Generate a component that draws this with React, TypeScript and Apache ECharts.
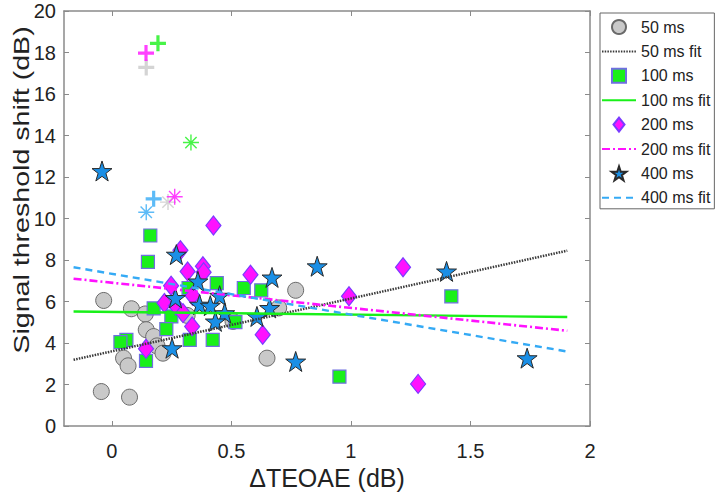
import React, { useEffect, useRef } from "react";
import * as echarts from "echarts";

const xTicks = [0, 0.5, 1, 1.5, 2];
const legendNames = ["50 ms", "50 ms fit", "100 ms", "100 ms fit", "200 ms", "200 ms fit", "400 ms", "400 ms fit"];

const ms50 = [[-0.034, 6.05], [0.082, 5.65], [0.14, 5.4], [0.698, 5.69], [0.507, 5.04], [0.144, 4.64], [0.175, 4.31], [0.189, 3.86], [0.214, 3.51], [0.049, 3.27], [0.068, 2.9], [0.649, 3.27], [-0.044, 1.66], [0.074, 1.39], [0.769, 6.54], [0.315, 5.33]];
const ms100 = [[0.161, 9.18], [0.151, 7.91], [0.439, 6.89], [0.552, 6.65], [0.625, 6.54], [0.321, 6.65], [0.175, 5.67], [0.249, 5.28], [0.517, 5.01], [0.228, 4.67], [0.326, 4.15], [0.422, 4.15], [0.061, 4.15], [0.036, 4.04], [0.143, 3.14], [0.952, 2.38], [1.42, 6.25]];
const ms200 = [[0.425, 9.66], [0.287, 8.47], [0.317, 7.45], [0.381, 7.7], [0.384, 7.41], [0.58, 7.29], [0.248, 6.76], [0.338, 6.28], [0.22, 5.93], [0.268, 5.8], [0.298, 5.44], [0.336, 4.8], [0.631, 4.4], [0.143, 3.72], [1.218, 7.65], [0.992, 6.25], [1.281, 2.03]];
const ms400 = [[0.27, 8.26], [0.36, 6.97], [0.67, 7.16], [0.266, 6.17], [0.451, 6.28], [0.367, 5.85], [0.412, 5.8], [0.472, 5.44], [0.66, 5.69], [0.607, 5.28], [0.433, 5.04], [0.252, 3.75], [0.769, 3.11], [0.859, 7.7], [1.4, 7.45], [1.737, 3.27], [-0.041, 12.29]];

const fit50 = [[-0.16, 3.19], [1.905, 8.45]];
const fit100 = [[-0.16, 5.52], [1.905, 5.25]];
const fit200 = [[-0.16, 7.1], [1.905, 4.59]];
const fit400 = [[-0.16, 7.65], [1.905, 3.59]];

const plus50 = [[0.144, 17.28]];
const plus100 = [[0.193, 18.44]];
const plus200 = [[0.143, 17.97]];
const plus400 = [[0.175, 10.95]];
const ast50 = [[0.235, 10.79]];
const ast100 = [[0.331, 13.66]];
const ast200 = [[0.263, 11.05]];
const ast400 = [[0.144, 10.3]];

function starPath(): string {
  const pts: string[] = [];
  for (let i = 0; i < 10; i++) {
    const r = i % 2 === 0 ? 10 : 3.9;
    const a = -Math.PI / 2 + (i * Math.PI) / 5;
    pts.push(`${(r * Math.cos(a)).toFixed(3)},${(r * Math.sin(a)).toFixed(3)}`);
  }
  return "path://M" + pts.join("L") + "Z";
}
const STAR = starPath();
const PLUS = "path://M0,-7L0,7M-7,0L7,0";
const AST = "path://M0,-8L0,8M-8,0L8,0M-5.66,-5.66L5.66,5.66M-5.66,5.66L5.66,-5.66";
const SQUARE_ICON = "path://M0,0H10V10H0Z";
const DIAMOND_ICON = "path://M7.5,0L15,9.5L7.5,19L0,9.5Z";

const C_GRAY = "#c9c9c9";
const C_GREEN = "#19f019";
const C_MAG = "#ff11ff";
const C_BLUE = "#1a8fe6";
const C_LBLUE = "#35aaf5";
const FONT = "Liberation Sans, Arial, sans-serif";

export default function App() {
  const ref = useRef<HTMLDivElement>(null);
  useEffect(() => {
    if (!ref.current) return;
    const chart = echarts.init(ref.current, undefined, { renderer: "svg" });
    const axisLine = { show: true, onZero: false, lineStyle: { color: "#8a8a8a", width: 1.5 } };
    const tickStyle = { inside: true, length: 5, lineStyle: { color: "#8a8a8a", width: 1 } };
    const outlier = (name: string, data: number[][], sym: string, color: string, size: number, bw: number) => ({
      name,
      type: "scatter",
      data,
      symbol: sym,
      symbolSize: size,
      itemStyle: { color: "transparent", borderColor: color, borderWidth: bw },
      z: 3,
    });
    const fitLine = (name: string, data: number[][], color: string, type: any, width: number) => ({
      name,
      type: "line",
      data,
      symbol: "none",
      lineStyle: { color, type, width },
      itemStyle: { color, opacity: 0 },
      z: 4,
    });
    const legendData = legendNames.map((n) => {
      if (n.endsWith("fit")) return { name: n, itemStyle: { opacity: 0 } };
      if (n === "100 ms") return { name: n, icon: SQUARE_ICON };
      if (n === "200 ms") return { name: n, icon: DIAMOND_ICON };
      return { name: n };
    });
    chart.setOption({
      animation: false,
      backgroundColor: "#ffffff",
      grid: { left: 64, top: 11, width: 526, height: 415 },
      legend: {
        data: legendData,
        orient: "vertical",
        left: 600,
        top: 13,
        itemWidth: 34,
        itemHeight: 14,
        itemGap: 8.4,
        symbolKeepAspect: true,
        padding: [6, 4, 3, 1],
        borderColor: "#666",
        borderWidth: 1,
        selectedMode: false,
        textStyle: { fontSize: 16, color: "#222", fontFamily: FONT },
      },
      xAxis: [
        {
          type: "value",
          min: -0.2,
          max: 2,
          axisLine,
          axisTick: { ...tickStyle, customValues: xTicks },
          axisLabel: { customValues: xTicks, fontSize: 20, color: "#222", fontFamily: FONT, margin: 15 },
          splitLine: { show: false },
          name: "ΔTEOAE (dB)",
          nameLocation: "middle",
          nameGap: 33,
          nameTextStyle: { fontSize: 25, color: "#222", fontFamily: FONT },
        },
        {
          type: "value",
          position: "top",
          min: -0.2,
          max: 2,
          axisLine,
          axisTick: { ...tickStyle, customValues: xTicks },
          axisLabel: { show: false },
          splitLine: { show: false },
        },
      ],
      yAxis: [
        {
          type: "value",
          min: 0,
          max: 20,
          interval: 2,
          axisLine,
          axisTick: tickStyle,
          axisLabel: { fontSize: 20, color: "#222", fontFamily: FONT, margin: 8 },
          splitLine: { show: false },
        },
        {
          type: "value",
          position: "right",
          min: 0,
          max: 20,
          interval: 2,
          axisLine,
          axisTick: tickStyle,
          axisLabel: { show: false },
          splitLine: { show: false },
        },
      ],
      graphic: [
        {
          type: "text",
          x: 21,
          y: 190,
          rotation: Math.PI / 2,
          scaleX: 1.3,
          style: {
            text: "Signal threshold shift (dB)",
            font: `22px ${FONT}`,
            fill: "#222",
            align: "center",
            verticalAlign: "middle",
          },
        },
      ],
      series: [
        {
          name: "50 ms",
          type: "scatter",
          data: ms50,
          symbol: "circle",
          symbolSize: 16,
          itemStyle: { color: C_GRAY, borderColor: "#6a6a6a", borderWidth: 1, opacity: 1 },
          z: 2,
        },
        fitLine("50 ms fit", fit50, "#3a3a3a", [1.5, 1.2], 2.5),
        {
          name: "100 ms",
          type: "scatter",
          data: ms100,
          symbol: "rect",
          symbolSize: 13,
          itemStyle: { color: C_GREEN, borderColor: "#6f6fe0", borderWidth: 1.2, opacity: 1 },
          z: 2,
        },
        fitLine("100 ms fit", fit100, C_GREEN, "solid", 2.4),
        {
          name: "200 ms",
          type: "scatter",
          data: ms200,
          symbol: "diamond",
          symbolSize: [15, 19],
          itemStyle: { color: C_MAG, borderColor: "#7a3cff", borderWidth: 1.2, opacity: 1 },
          z: 2,
        },
        fitLine("200 ms fit", fit200, C_MAG, [8, 3, 2, 3], 2.6),
        {
          name: "400 ms",
          type: "scatter",
          data: ms400,
          symbol: STAR,
          symbolSize: 20,
          itemStyle: { color: C_BLUE, borderColor: "#2a2a2a", borderWidth: 1, opacity: 1 },
          z: 2,
        },
        fitLine("400 ms fit", fit400, C_LBLUE, [7, 5], 2.4),
        outlier("50 ms +", plus50, PLUS, C_GRAY, 16, 3.2),
        outlier("100 ms +", plus100, PLUS, C_GREEN, 16, 3.2),
        outlier("200 ms +", plus200, PLUS, C_MAG, 16, 3.2),
        outlier("400 ms +", plus400, PLUS, C_LBLUE, 16, 3.2),
        outlier("50 ms *", ast50, AST, C_GRAY, 16, 1.4),
        outlier("100 ms *", ast100, AST, C_GREEN, 16, 1.4),
        outlier("200 ms *", ast200, AST, C_MAG, 16, 1.4),
        outlier("400 ms *", ast400, AST, C_LBLUE, 16, 1.4),
      ],
    });
    return () => chart.dispose();
  }, []);
  return <div ref={ref} style={{ width: 720, height: 499, position: "absolute", left: 0, top: 0 }} />;
}
